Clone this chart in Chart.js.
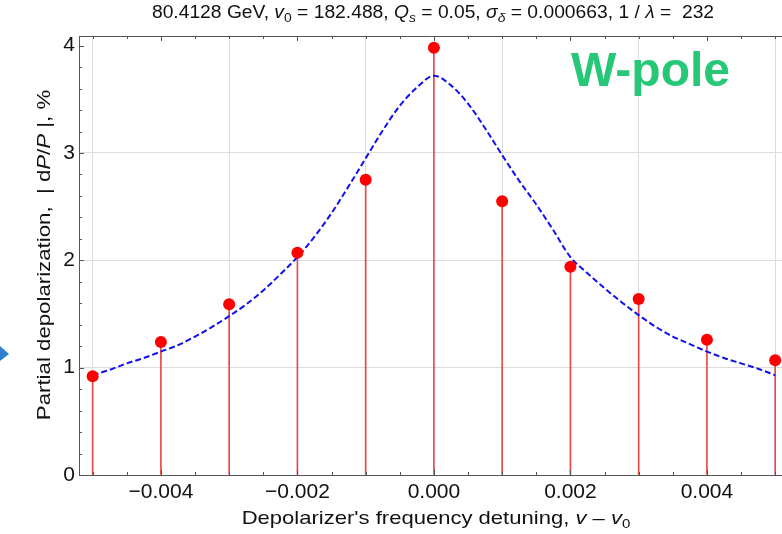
<!DOCTYPE html>
<html>
<head>
<meta charset="utf-8">
<script src="https://cdn.jsdelivr.net/npm/chart.js@4.4.1/dist/chart.umd.min.js"></script>
<style>
  body { margin: 0; background: #fff; }
  canvas { display: block; }
</style>
</head>
<body>
<canvas id="myChart" width="782" height="534"></canvas>
<script>
// measured points (stems + red dots)
const detuning = [-0.005, -0.004, -0.003, -0.002, -0.001, 0, 0.001, 0.002, 0.003, 0.004, 0.005];
const measured = [0.92, 1.24, 1.59, 2.07, 2.75, 3.98, 2.55, 1.94, 1.64, 1.26, 1.07];

// dashed model curve
const curveX = [-0.005, -0.00475, -0.0045, -0.00425, -0.004, -0.00375, -0.0035, -0.00325, -0.003, -0.00275,
  -0.0025, -0.00225, -0.002, -0.00175, -0.0015, -0.00125, -0.001, -0.00075, -0.0005, -0.00025,
  0, 0.00025, 0.0005, 0.00075, 0.001, 0.00125, 0.0015, 0.00175, 0.002, 0.00225,
  0.0025, 0.00275, 0.003, 0.00325, 0.0035, 0.00375, 0.004, 0.00425, 0.0045, 0.00475, 0.005];
const curveY = [0.93, 0.98, 1.04, 1.09, 1.15, 1.21, 1.29, 1.38, 1.48, 1.59,
  1.72, 1.87, 2.03, 2.22, 2.44, 2.69, 2.95, 3.21, 3.44, 3.61,
  3.72, 3.63, 3.46, 3.23, 2.98, 2.74, 2.52, 2.28, 2.03, 1.88,
  1.74, 1.61, 1.49, 1.38, 1.29, 1.22, 1.15, 1.09, 1.04, 0.99, 0.93];

const xTickValues = [-0.004, -0.002, 0, 0.002, 0.004];
const yTickValues = [0, 1, 2, 3, 4];

const fam = "'Liberation Sans', Arial, sans-serif";

const titleParts = [
  ['80.4128 GeV, '], ['v', 1], ['0', 0, 1], [' = 182.488, '], ['Q', 1], ['s', 1, 1],
  [' = 0.05, '], ['\u03c3', 1], ['\u03b4', 1, 1], [' = 0.000663, 1 / '], ['\u03bb', 1], [' =  232']
];
const xTitleParts = [["Depolarizer's frequency detuning, "], ['v', 1], [' \u2013 '], ['v', 1], ['0', 0, 1]];
const yTitleParts = [['Partial depolarization,  | d'], ['P', 1], ['/'], ['P', 1], [' |, %']];

function partFont(p, size) {
  return (p[1] ? 'italic ' : '') + (p[2] ? Math.round(size * 0.7) : size) + 'px ' + fam;
}

// text made of plain / italic / subscript pieces, centred on (cx, cy), stretched sideways by sx
function drawRich(ctx, parts, size, cx, cy, sx) {
  let w = 0;
  parts.forEach(p => { ctx.font = partFont(p, size); w += ctx.measureText(p[0]).width; });
  ctx.save();
  ctx.translate(cx, cy);
  ctx.scale(sx, 1);
  let x = -w / 2;
  ctx.textBaseline = 'middle';
  ctx.textAlign = 'left';
  parts.forEach(p => {
    ctx.font = partFont(p, size);
    ctx.fillText(p[0], x, p[2] ? size * 0.3 : 0);
    x += ctx.measureText(p[0]).width;
  });
  ctx.restore();
}

const decorations = {
  id: 'decorations',
  afterDraw(chart) {
    const ctx = chart.ctx;
    const a = chart.chartArea;
    const xs = chart.scales.x;
    const ys = chart.scales.y;
    ctx.save();
    ctx.strokeStyle = '#555';
    ctx.lineWidth = 1;
    ctx.beginPath();
    ctx.moveTo(a.left, a.top + 0.5);
    ctx.lineTo(a.right, a.top + 0.5);
    ctx.stroke();

    // frame ticks, pointing inwards
    ctx.beginPath();
    for (let i = -10; i <= 10; i++) {
      const px = Math.round(xs.getPixelForValue(i * 0.0005)) + 0.5;
      const len = i % 4 === 0 ? 5 : 3;
      ctx.moveTo(px, a.bottom); ctx.lineTo(px, a.bottom - len);
      ctx.moveTo(px, a.top); ctx.lineTo(px, a.top + len);
    }
    for (let j = 0; j <= 20; j++) {
      const py = Math.round(ys.getPixelForValue(j * 0.2)) + 0.5;
      const len = j % 5 === 0 ? 5 : 3;
      ctx.moveTo(a.left, py); ctx.lineTo(a.left + len, py);
    }
    ctx.stroke();

    ctx.fillStyle = '#111';
    drawRich(ctx, titleParts, 18, 433, 13, 1.07);
    drawRich(ctx, xTitleParts, 19, 436, 519, 1.16);
    ctx.save();
    ctx.translate(45, 255);
    ctx.rotate(-Math.PI / 2);
    drawRich(ctx, yTitleParts, 19, 0, 0, 1.17);
    ctx.restore();

    ctx.fillStyle = '#26c878';
    ctx.font = 'bold 48px ' + fam;
    ctx.textBaseline = 'alphabetic';
    ctx.textAlign = 'left';
    ctx.fillText('W-pole', 571, 86);

    // little blue marker cut by the left edge
    ctx.fillStyle = '#2f80cc';
    ctx.beginPath();
    ctx.moveTo(0, 346); ctx.lineTo(9, 354); ctx.lineTo(0, 361);
    ctx.closePath();
    ctx.fill();
    ctx.restore();
  }
};

const ctx = document.getElementById('myChart');

new Chart(ctx, {
  type: 'scatter',
  data: {
    datasets: [{
      type: 'scatter',
      data: detuning.map((v, i) => ({ x: v, y: measured[i] })),
      pointRadius: 6,
      pointBackgroundColor: '#ff0000',
      pointBorderWidth: 0,
      order: 1
    }, {
      type: 'line',
      data: curveX.map((v, i) => ({ x: v, y: curveY[i] })),
      borderColor: '#1010f0',
      borderWidth: 2,
      borderDash: [6, 3],
      pointRadius: 0,
      fill: false,
      cubicInterpolationMode: 'monotone',
      order: 2
    }, {
      type: 'bar',
      data: detuning.map((v, i) => ({ x: v, y: measured[i] })),
      backgroundColor: '#e64848',
      barThickness: 1,
      order: 3
    }]
  },
  plugins: [decorations],
  options: {
    responsive: false,
    devicePixelRatio: 1,
    animation: false,
    layout: { autoPadding: false, padding: { top: 36, right: 0, left: 0, bottom: 0 } },
    plugins: { legend: { display: false }, tooltip: { enabled: false } },
    scales: {
      x: {
        type: 'linear',
        min: -0.0052,
        max: 0.0051,
        offset: false,
        afterBuildTicks: s => { s.ticks = xTickValues.map(v => ({ value: v })); },
        afterFit: s => { s.height = 59; },
        ticks: {
          autoSkip: false,
          maxRotation: 0,
          padding: 5,
          color: '#111',
          font: { family: fam, size: 21 },
          callback: v => v.toFixed(3).replace('-', '\u2212')
        },
        grid: { color: '#dcdcdc', drawTicks: false },
        border: { color: '#555', width: 1 }
      },
      y: {
        type: 'linear',
        min: 0,
        max: 4.09,
        afterBuildTicks: s => { s.ticks = yTickValues.map(v => ({ value: v })); },
        afterFit: s => { s.width = 79; },
        ticks: {
          padding: 4,
          color: '#111',
          font: { family: fam, size: 21 },
          callback: v => String(v)
        },
        grid: {
          drawTicks: false,
          color: c => (c.tick && c.tick.value > 0 && c.tick.value < 4) ? '#dcdcdc' : 'rgba(0,0,0,0)'
        },
        border: { color: '#555', width: 1 }
      }
    }
  }
});
</script>
</body>
</html>
